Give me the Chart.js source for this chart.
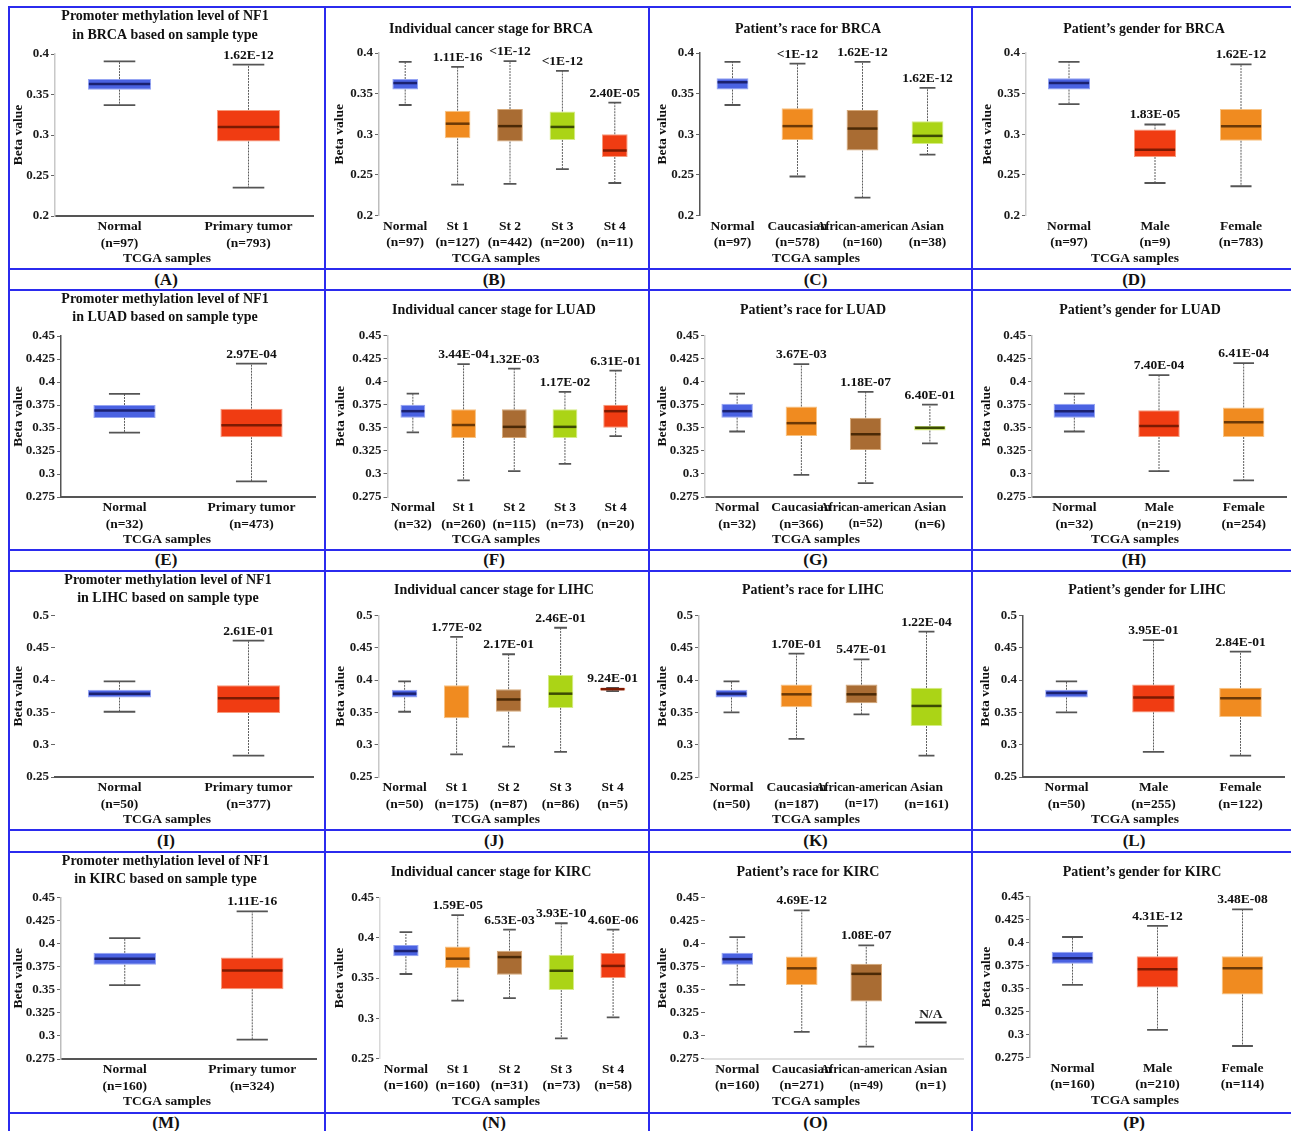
<!DOCTYPE html>
<html>
<head>
<meta charset="utf-8">
<title>NF1 promoter methylation</title>
<script src="https://cdn.jsdelivr.net/npm/chart.js@4.4.0/dist/chart.umd.min.js"></script>
<style>
  html, body { margin: 0; padding: 0; background: #fff; }
  #board { position: relative; width: 1291px; height: 1131px; overflow: hidden; background: #fff; }
  .hline { position: absolute; height: 2px; background: #2b2bee; }
  .vline { position: absolute; width: 2px; background: #2b2bee; }
  .tag { position: absolute; width: 100px; height: 20px; line-height: 20px; text-align: center;
         font: bold 17px "Liberation Serif", "Times New Roman", serif; color: #111; }
</style>
</head>
<body>
<div id="board"></div>
<script>
// Box statistics are [min, q1, median, q3, max] of the beta values.

// ---------- BRCA ----------
const TICKS_BRCA = [0.2, 0.25, 0.3, 0.35, 0.4];

const BRCA_TYPE_GROUPS = ['Normal', 'Primary tumor'];
const BRCA_TYPE_N = [97, 793];
const BRCA_TYPE_BOX = [[0.337, 0.356, 0.363, 0.369, 0.391], [0.235, 0.292, 0.310, 0.331, 0.387]];
const BRCA_TYPE_P = ['', '1.62E-12'];

const BRCA_STAGE_GROUPS = ['Normal', 'St 1', 'St 2', 'St 3', 'St 4'];
const BRCA_STAGE_N = [97, 127, 442, 200, 11];
const BRCA_STAGE_BOX = [
  [0.336, 0.355, 0.363, 0.368, 0.389],
  [0.238, 0.295, 0.313, 0.329, 0.383],
  [0.239, 0.291, 0.310, 0.331, 0.390],
  [0.257, 0.293, 0.309, 0.328, 0.378],
  [0.240, 0.272, 0.280, 0.300, 0.339]
];
const BRCA_STAGE_P = ['', '1.11E-16', '<1E-12', '<1E-12', '2.40E-05'];

const BRCA_RACE_GROUPS = ['Normal', 'Caucasian', 'African-american', 'Asian'];
const BRCA_RACE_N = [97, 578, 160, 38];
const BRCA_RACE_BOX = [
  [0.336, 0.355, 0.364, 0.369, 0.389],
  [0.248, 0.293, 0.310, 0.332, 0.387],
  [0.222, 0.280, 0.307, 0.330, 0.389],
  [0.275, 0.288, 0.298, 0.316, 0.357]
];
const BRCA_RACE_P = ['', '<1E-12', '1.62E-12', '1.62E-12'];

const BRCA_GENDER_GROUPS = ['Normal', 'Male', 'Female'];
const BRCA_GENDER_N = [97, 9, 783];
const BRCA_GENDER_BOX = [
  [0.337, 0.355, 0.363, 0.369, 0.389],
  [0.240, 0.272, 0.281, 0.306, 0.312],
  [0.236, 0.292, 0.310, 0.331, 0.386]
];
const BRCA_GENDER_P = ['', '1.83E-05', '1.62E-12'];

// ---------- LUAD ----------
const TICKS_LUAD = [0.275, 0.3, 0.325, 0.35, 0.375, 0.4, 0.425, 0.45];

const LUAD_TYPE_GROUPS = ['Normal', 'Primary tumor'];
const LUAD_TYPE_N = [32, 473];
const LUAD_TYPE_BOX = [[0.345, 0.361, 0.369, 0.375, 0.387], [0.292, 0.340, 0.353, 0.371, 0.420]];
const LUAD_TYPE_P = ['', '2.97E-04'];

const LUAD_STAGE_GROUPS = ['Normal', 'St 1', 'St 2', 'St 3', 'St 4'];
const LUAD_STAGE_N = [32, 260, 115, 73, 20];
const LUAD_STAGE_BOX = [
  [0.345, 0.361, 0.368, 0.375, 0.387],
  [0.293, 0.339, 0.353, 0.370, 0.419],
  [0.303, 0.339, 0.351, 0.370, 0.414],
  [0.311, 0.339, 0.351, 0.370, 0.389],
  [0.341, 0.350, 0.368, 0.375, 0.412]
];
const LUAD_STAGE_P = ['', '3.44E-04', '1.32E-03', '1.17E-02', '6.31E-01'];

const LUAD_RACE_GROUPS = ['Normal', 'Caucasian', 'African-american', 'Asian'];
const LUAD_RACE_N = [32, 366, 52, 6];
const LUAD_RACE_BOX = [
  [0.346, 0.361, 0.368, 0.376, 0.387],
  [0.299, 0.341, 0.355, 0.373, 0.419],
  [0.290, 0.326, 0.343, 0.361, 0.389],
  [0.333, 0.347, 0.350, 0.352, 0.375]
];
const LUAD_RACE_P = ['', '3.67E-03', '1.18E-07', '6.40E-01'];

const LUAD_GENDER_GROUPS = ['Normal', 'Male', 'Female'];
const LUAD_GENDER_N = [32, 219, 254];
const LUAD_GENDER_BOX = [
  [0.346, 0.361, 0.368, 0.376, 0.387],
  [0.303, 0.340, 0.352, 0.369, 0.407],
  [0.293, 0.340, 0.356, 0.372, 0.420]
];
const LUAD_GENDER_P = ['', '7.40E-04', '6.41E-04'];

// ---------- LIHC ----------
const TICKS_LIHC = [0.25, 0.3, 0.35, 0.4, 0.45, 0.5];

const LIHC_TYPE_GROUPS = ['Normal', 'Primary tumor'];
const LIHC_TYPE_N = [50, 377];
const LIHC_TYPE_BOX = [[0.351, 0.373, 0.379, 0.385, 0.398], [0.283, 0.349, 0.372, 0.392, 0.461]];
const LIHC_TYPE_P = ['', '2.61E-01'];

const LIHC_STAGE_GROUPS = ['Normal', 'St 1', 'St 2', 'St 3', 'St 4'];
const LIHC_STAGE_N = [50, 175, 87, 86, 5];
const LIHC_STAGE_BOX = [
  [0.351, 0.373, 0.379, 0.385, 0.398],
  [0.285, 0.341, null, 0.392, 0.467],
  [0.297, 0.351, 0.370, 0.386, 0.440],
  [0.289, 0.357, 0.379, 0.408, 0.481],
  [0.383, 0.384, 0.386, 0.388, 0.388]
];
const LIHC_STAGE_P = ['', '1.77E-02', '2.17E-01', '2.46E-01', '9.24E-01'];

const LIHC_RACE_GROUPS = ['Normal', 'Caucasian', 'African-american', 'Asian'];
const LIHC_RACE_N = [50, 187, 17, 161];
const LIHC_RACE_BOX = [
  [0.350, 0.373, 0.379, 0.385, 0.398],
  [0.309, 0.358, 0.378, 0.393, 0.441],
  [0.347, 0.364, 0.378, 0.393, 0.432],
  [0.283, 0.329, 0.360, 0.388, 0.475]
];
const LIHC_RACE_P = ['', '1.70E-01', '5.47E-01', '1.22E-04'];

const LIHC_GENDER_GROUPS = ['Normal', 'Male', 'Female'];
const LIHC_GENDER_N = [50, 255, 122];
const LIHC_GENDER_BOX = [
  [0.350, 0.373, 0.380, 0.385, 0.398],
  [0.289, 0.350, 0.373, 0.393, 0.462],
  [0.283, 0.343, 0.372, 0.388, 0.444]
];
const LIHC_GENDER_P = ['', '3.95E-01', '2.84E-01'];

// ---------- KIRC ----------
const TICKS_KIRC = [0.275, 0.3, 0.325, 0.35, 0.375, 0.4, 0.425, 0.45];
const TICKS_KIRC_STAGE = [0.25, 0.3, 0.35, 0.4, 0.45];

const KIRC_TYPE_GROUPS = ['Normal', 'Primary tumor'];
const KIRC_TYPE_N = [160, 324];
const KIRC_TYPE_BOX = [[0.355, 0.377, 0.3835, 0.390, 0.406], [0.296, 0.3505, 0.371, 0.385, 0.435]];
const KIRC_TYPE_P = ['', '1.11E-16'];

const KIRC_STAGE_GROUPS = ['Normal', 'St 1', 'St 2', 'St 3', 'St 4'];
const KIRC_STAGE_N = [160, 160, 31, 73, 58];
const KIRC_STAGE_BOX = [
  [0.355, 0.377, 0.3835, 0.391, 0.407],
  [0.322, 0.362, 0.374, 0.389, 0.428],
  [0.325, 0.354, 0.376, 0.384, 0.410],
  [0.275, 0.335, 0.359, 0.379, 0.418],
  [0.301, 0.350, 0.365, 0.381, 0.410]
];
const KIRC_STAGE_P = ['', '1.59E-05', '6.53E-03', '3.93E-10', '4.60E-06'];

const KIRC_RACE_GROUPS = ['Normal', 'Caucasian', 'African-american', 'Asian'];
const KIRC_RACE_N = [160, 271, 49, 1];
const KIRC_RACE_BOX = [
  [0.355, 0.377, 0.383, 0.390, 0.407],
  [0.304, 0.355, 0.373, 0.386, 0.436],
  [0.288, 0.337, 0.367, 0.378, 0.398],
  null
];
const KIRC_RACE_P = ['', '4.69E-12', '1.08E-07', 'N/A'];
const KIRC_RACE_NA_LEVEL = 0.314;

const KIRC_GENDER_GROUPS = ['Normal', 'Male', 'Female'];
const KIRC_GENDER_N = [160, 210, 114];
const KIRC_GENDER_BOX = [
  [0.354, 0.377, 0.383, 0.390, 0.406],
  [0.305, 0.351, 0.371, 0.385, 0.418],
  [0.2875, 0.3435, 0.372, 0.385, 0.436]
];
const KIRC_GENDER_P = ['', '4.31E-12', '3.48E-08'];

// ---------- panels ----------
const PANELS = [
  { tag: 'A', title: ['Promoter methylation level of NF1', 'in BRCA based on sample type'], groups: BRCA_TYPE_GROUPS, n: BRCA_TYPE_N, box: BRCA_TYPE_BOX, p: BRCA_TYPE_P, ticks: TICKS_BRCA },
  { tag: 'B', title: ['Individual cancer stage for BRCA'], groups: BRCA_STAGE_GROUPS, n: BRCA_STAGE_N, box: BRCA_STAGE_BOX, p: BRCA_STAGE_P, ticks: TICKS_BRCA },
  { tag: 'C', title: ['Patient\u2019s race for BRCA'], groups: BRCA_RACE_GROUPS, n: BRCA_RACE_N, box: BRCA_RACE_BOX, p: BRCA_RACE_P, ticks: TICKS_BRCA },
  { tag: 'D', title: ['Patient\u2019s gender for BRCA'], groups: BRCA_GENDER_GROUPS, n: BRCA_GENDER_N, box: BRCA_GENDER_BOX, p: BRCA_GENDER_P, ticks: TICKS_BRCA },
  { tag: 'E', title: ['Promoter methylation level of NF1', 'in LUAD based on sample type'], groups: LUAD_TYPE_GROUPS, n: LUAD_TYPE_N, box: LUAD_TYPE_BOX, p: LUAD_TYPE_P, ticks: TICKS_LUAD },
  { tag: 'F', title: ['Individual cancer stage for LUAD'], groups: LUAD_STAGE_GROUPS, n: LUAD_STAGE_N, box: LUAD_STAGE_BOX, p: LUAD_STAGE_P, ticks: TICKS_LUAD },
  { tag: 'G', title: ['Patient\u2019s race for LUAD'], groups: LUAD_RACE_GROUPS, n: LUAD_RACE_N, box: LUAD_RACE_BOX, p: LUAD_RACE_P, ticks: TICKS_LUAD },
  { tag: 'H', title: ['Patient\u2019s gender for LUAD'], groups: LUAD_GENDER_GROUPS, n: LUAD_GENDER_N, box: LUAD_GENDER_BOX, p: LUAD_GENDER_P, ticks: TICKS_LUAD },
  { tag: 'I', title: ['Promoter methylation level of NF1', 'in LIHC based on sample type'], groups: LIHC_TYPE_GROUPS, n: LIHC_TYPE_N, box: LIHC_TYPE_BOX, p: LIHC_TYPE_P, ticks: TICKS_LIHC },
  { tag: 'J', title: ['Individual cancer stage for LIHC'], groups: LIHC_STAGE_GROUPS, n: LIHC_STAGE_N, box: LIHC_STAGE_BOX, p: LIHC_STAGE_P, ticks: TICKS_LIHC },
  { tag: 'K', title: ['Patient\u2019s race for LIHC'], groups: LIHC_RACE_GROUPS, n: LIHC_RACE_N, box: LIHC_RACE_BOX, p: LIHC_RACE_P, ticks: TICKS_LIHC },
  { tag: 'L', title: ['Patient\u2019s gender for LIHC'], groups: LIHC_GENDER_GROUPS, n: LIHC_GENDER_N, box: LIHC_GENDER_BOX, p: LIHC_GENDER_P, ticks: TICKS_LIHC },
  { tag: 'M', title: ['Promoter methylation level of NF1', 'in KIRC based on sample type'], groups: KIRC_TYPE_GROUPS, n: KIRC_TYPE_N, box: KIRC_TYPE_BOX, p: KIRC_TYPE_P, ticks: TICKS_KIRC },
  { tag: 'N', title: ['Individual cancer stage for KIRC'], groups: KIRC_STAGE_GROUPS, n: KIRC_STAGE_N, box: KIRC_STAGE_BOX, p: KIRC_STAGE_P, ticks: TICKS_KIRC_STAGE },
  { tag: 'O', title: ['Patient\u2019s race for KIRC'], groups: KIRC_RACE_GROUPS, n: KIRC_RACE_N, box: KIRC_RACE_BOX, p: KIRC_RACE_P, ticks: TICKS_KIRC, naLevel: KIRC_RACE_NA_LEVEL },
  { tag: 'P', title: ['Patient\u2019s gender for KIRC'], groups: KIRC_GENDER_GROUPS, n: KIRC_GENDER_N, box: KIRC_GENDER_BOX, p: KIRC_GENDER_P, ticks: TICKS_KIRC }
];

// ---------- styling and page geometry ----------
const SERIF = '"Liberation Serif", "Times New Roman", serif';
const BAR_FRACTION = 0.49;

const PALETTE = {
  blue:   { fill: '#4a62e2', edge: '#95a4f3', mid: '#1b2170' },
  red:    { fill: '#f03c12', edge: '#f79a7c', mid: '#7c1a02' },
  orange: { fill: '#f08b20', edge: '#f8c384', mid: '#6b3806' },
  brown:  { fill: '#a96c33', edge: '#d6a878', mid: '#4a2906' },
  lime:   { fill: '#abd416', edge: '#d5ec86', mid: '#3b4a04' }
};
const GROUP_COLOR = {
  'Normal': 'blue', 'Primary tumor': 'red',
  'St 1': 'orange', 'St 2': 'brown', 'St 3': 'lime', 'St 4': 'red',
  'Caucasian': 'orange', 'African-american': 'brown', 'Asian': 'lime',
  'Male': 'red', 'Female': 'orange'
};

// frame lines (page pixels)
const V_LINES = [9, 324.5, 649.3, 971.5];
const PAGE_W = 1291;
const H_LINES = [7.3, 269.3, 289.7, 550, 570.5, 830, 851.5, 1112.7];
const TAG_X = [166, 494, 815.5, 1134];
const TCGA_X = [167, 496, 816, 1135];

// plot rectangle [left, right, top, bottom], title position, y-title x, axis line colours
const LAYOUT = {
  A: { plot: [55, 313, 54, 216],        titleX: 165,   titleY: 16.7,  yTitleX: 17,  xLine: '#555', yLine: '#c8c8c8' },
  B: { plot: [379, 641, 53, 215.5],     titleX: 491,   titleY: 29.3,  yTitleX: 340, xLine: null,   yLine: '#bdbdbd' },
  C: { plot: [700, 960, 53, 215.5],     titleX: 808,   titleY: 29.3,  yTitleX: 663, xLine: null,   yLine: '#555' },
  D: { plot: [1026, 1284, 53, 215.5],   titleX: 1144,  titleY: 29.3,  yTitleX: 988, xLine: null,   yLine: '#d0d0d0' },
  E: { plot: [61, 315, 336, 497],       titleX: 165,   titleY: 299.3, yTitleX: 16.5, xLine: '#555', yLine: '#555' },
  F: { plot: [387.5, 641, 335.5, 497],  titleX: 494,   titleY: 310.7, yTitleX: 341, xLine: null,   yLine: '#c8c8c8' },
  G: { plot: [705, 962, 335.5, 497],    titleX: 813,   titleY: 310.7, yTitleX: 663, xLine: '#666', yLine: '#d0d0d0' },
  H: { plot: [1032, 1286, 335.5, 497],  titleX: 1140,  titleY: 310.7, yTitleX: 987, xLine: '#555', yLine: '#bdbdbd' },
  I: { plot: [55, 313, 615.5, 777],     titleX: 168,   titleY: 580,   yTitleX: 16.5, xLine: '#555', yLine: null },
  J: { plot: [378.6, 638.6, 615.5, 777],titleX: 494,   titleY: 590.7, yTitleX: 341, xLine: null,   yLine: '#c8c8c8' },
  K: { plot: [699, 959, 615.5, 777],    titleX: 813,   titleY: 590.7, yTitleX: 663, xLine: null,   yLine: '#bdbdbd' },
  L: { plot: [1023, 1284, 615.5, 777],  titleX: 1147,  titleY: 590.7, yTitleX: 986, xLine: '#555', yLine: '#555' },
  M: { plot: [61, 316, 897.5, 1059],    titleX: 165.5, titleY: 861,   yTitleX: 17,  xLine: '#555', yLine: '#bdbdbd' },
  N: { plot: [380, 639, 897.5, 1058.5], titleX: 491,   titleY: 872.3, yTitleX: 340, xLine: null,   yLine: '#d8d8d8' },
  O: { plot: [705, 963, 897.5, 1058.5], titleX: 808,   titleY: 872.3, yTitleX: 663, xLine: '#e0e0e0', yLine: null },
  P: { plot: [1030, 1285, 896.5, 1057.5], titleX: 1142, titleY: 872.3, yTitleX: 987, xLine: null,  yLine: '#aaa' }
};

Chart.defaults.font.family = SERIF;
Chart.defaults.color = '#111';

const board = document.getElementById('board');

// blue frame
H_LINES.forEach(y => {
  const d = document.createElement('div');
  d.className = 'hline';
  d.style.left = '8px';
  d.style.width = (PAGE_W - 8) + 'px';
  d.style.top = (y - 1) + 'px';
  board.appendChild(d);
});
V_LINES.forEach(x => {
  const d = document.createElement('div');
  d.className = 'vline';
  d.style.left = (x - 1) + 'px';
  d.style.top = (H_LINES[0] - 1) + 'px';
  d.style.height = (1131 - H_LINES[0] + 1) + 'px';
  board.appendChild(d);
});

// whiskers, caps, medians and p-value labels on top of the floating bars
function boxWhiskerPlugin(pn) {
  return {
    id: 'boxWhisker',
    afterDatasetsDraw(chart) {
      const ctx = chart.ctx;
      const ys = chart.scales.y, xs = chart.scales.x;
      const slot = xs.width / pn.groups.length;
      const bw = slot * BAR_FRACTION;
      ctx.save();
      pn.box.forEach((s, i) => {
        const cx = xs.getPixelForValue(i);
        const colr = PALETTE[GROUP_COLOR[pn.groups[i]]];
        if (s) {
          const [mn, q1, md, q3, mx] = s;
          ctx.strokeStyle = '#5e5e5e';
          ctx.lineWidth = 1;
          ctx.setLineDash([2, 1]);
          ctx.beginPath();
          ctx.moveTo(cx, ys.getPixelForValue(q3)); ctx.lineTo(cx, ys.getPixelForValue(mx));
          ctx.moveTo(cx, ys.getPixelForValue(q1)); ctx.lineTo(cx, ys.getPixelForValue(mn));
          ctx.stroke();
          ctx.setLineDash([]);
          ctx.strokeStyle = '#555';
          ctx.lineWidth = 1.8;
          ctx.beginPath();
          [mn, mx].forEach(v => {
            const y = ys.getPixelForValue(v);
            ctx.moveTo(cx - bw / 4, y); ctx.lineTo(cx + bw / 4, y);
          });
          ctx.stroke();
          if (md != null) {
            const y = ys.getPixelForValue(md);
            ctx.strokeStyle = colr.mid;
            ctx.lineWidth = 2.5;
            ctx.beginPath();
            ctx.moveTo(cx - bw / 2 + 1, y); ctx.lineTo(cx + bw / 2 - 1, y);
            ctx.stroke();
          }
          if (pn.p[i]) {
            ctx.fillStyle = '#111';
            ctx.font = 'bold 13.5px ' + SERIF;
            ctx.textAlign = 'center';
            ctx.textBaseline = 'middle';
            ctx.fillText(pn.p[i], cx, ys.getPixelForValue(mx) - 9.5);
          }
        } else if (pn.p[i] && pn.naLevel != null) {
          const y = ys.getPixelForValue(pn.naLevel);
          ctx.fillStyle = '#222';
          ctx.font = 'bold 13.5px ' + SERIF;
          ctx.textAlign = 'center';
          ctx.textBaseline = 'middle';
          ctx.fillText(pn.p[i], cx, y - 8);
          ctx.strokeStyle = '#333';
          ctx.lineWidth = 2;
          ctx.beginPath();
          ctx.moveTo(cx - bw / 2, y); ctx.lineTo(cx + bw / 2, y);
          ctx.stroke();
        }
      });
      ctx.restore();
    }
  };
}

// panel heading and the shared x caption
function panelTextPlugin(pn, g, left, top, col) {
  return {
    id: 'panelText',
    afterDraw(chart) {
      const ctx = chart.ctx;
      ctx.save();
      ctx.fillStyle = '#111';
      ctx.textAlign = 'center';
      ctx.textBaseline = 'middle';
      ctx.font = 'bold 14px ' + SERIF;
      pn.title.forEach((line, i) => ctx.fillText(line, g.titleX - left, g.titleY - top + i * 18.4));
      ctx.font = 'bold 13.5px ' + SERIF;
      ctx.fillText('TCGA samples', TCGA_X[col] - left, chart.chartArea.bottom + 43);
      ctx.restore();
    }
  };
}

PANELS.forEach((pn, idx) => {
  const col = idx % 4, row = Math.floor(idx / 4);
  const cLeft = Math.round(V_LINES[col] + 1);
  const cRight = col === 3 ? PAGE_W : Math.round(V_LINES[col + 1] - 1);
  const cTop = Math.round(H_LINES[2 * row] + 1);
  const cBottom = Math.round(H_LINES[2 * row + 1] - 1);
  const W = cRight - cLeft, Hh = cBottom - cTop;
  const g = LAYOUT[pn.tag];
  const [pl, pr, pt, pb] = g.plot;

  const yTitleLH = 13.5 * 1.2;
  const padLeft = Math.max(0, g.yTitleX - cLeft - yTitleLH / 2);
  const yAxisW = pl - cLeft - padLeft;
  const padRight = cRight - pr;
  const padTop = pt - cTop;
  const xAxisH = cBottom - pb;
  const xLH = 16.2;

  const canvas = document.createElement('canvas');
  canvas.width = W;
  canvas.height = Hh;
  canvas.style.cssText = `position:absolute;left:${cLeft}px;top:${cTop}px;width:${W}px;height:${Hh}px;`;
  board.appendChild(canvas);

  const tag = document.createElement('div');
  tag.className = 'tag';
  tag.textContent = '(' + pn.tag + ')';
  const stripMid = row === 3 ? 1122.5 : (H_LINES[2 * row + 1] + H_LINES[2 * row + 2]) / 2;
  tag.style.left = (TAG_X[col] - 50) + 'px';
  tag.style.top = (stripMid - 10) + 'px';
  board.appendChild(tag);

  const ticks = pn.ticks;

  new Chart(canvas, {
    type: 'bar',
    data: {
      labels: pn.groups.map((gname, i) => [gname, '(n=' + pn.n[i] + ')']),
      datasets: [{
        data: pn.box.map(s => (s ? [s[1], s[3]] : null)),
        backgroundColor: pn.groups.map(gname => PALETTE[GROUP_COLOR[gname]].fill),
        borderColor: pn.groups.map(gname => PALETTE[GROUP_COLOR[gname]].edge),
        borderWidth: 1,
        borderSkipped: false,
        barPercentage: BAR_FRACTION,
        categoryPercentage: 1
      }]
    },
    options: {
      responsive: false,
      animation: false,
      devicePixelRatio: 1,
      events: [],
      layout: { padding: { left: padLeft, right: padRight, top: padTop, bottom: 0 } },
      plugins: {
        legend: { display: false },
        tooltip: { enabled: false },
        title: { display: false }
      },
      scales: {
        x: {
          grid: { display: false, drawTicks: false },
          border: { display: !!g.xLine, color: g.xLine || '#000', width: 2 },
          ticks: {
            autoSkip: false,
            maxRotation: 0,
            minRotation: 0,
            padding: 11 - xLH / 2,
            color: '#111',
            font: (c) => ({
              family: SERIF,
              weight: 'bold',
              size: pn.groups[c.index] === 'African-american' ? 12 : 13.5,
              lineHeight: xLH + 'px'
            })
          },
          title: { display: false },
          afterFit: (s) => { s.height = xAxisH; }
        },
        y: {
          min: ticks[0],
          max: ticks[ticks.length - 1],
          afterBuildTicks: (s) => { s.ticks = ticks.map(v => ({ value: v })); },
          grid: { display: true, drawOnChartArea: false, drawTicks: true, tickLength: 4, color: '#666', lineWidth: 1 },
          border: { display: !!g.yLine, color: g.yLine || '#000', width: 1.5 },
          ticks: {
            padding: 2,
            color: '#1a1a1a',
            font: { family: SERIF, weight: 'bold', size: 13 },
            callback: (v) => String(parseFloat(Number(v).toFixed(3)))
          },
          title: {
            display: true,
            text: 'Beta value',
            color: '#111',
            font: { family: SERIF, weight: 'bold', size: 13.5, lineHeight: 1.2 },
            padding: { top: 0, bottom: 0 }
          },
          afterFit: (s) => { s.width = yAxisW; }
        }
      }
    },
    plugins: [boxWhiskerPlugin(pn), panelTextPlugin(pn, g, cLeft, cTop, col)]
  });
});
</script>
</body>
</html>
